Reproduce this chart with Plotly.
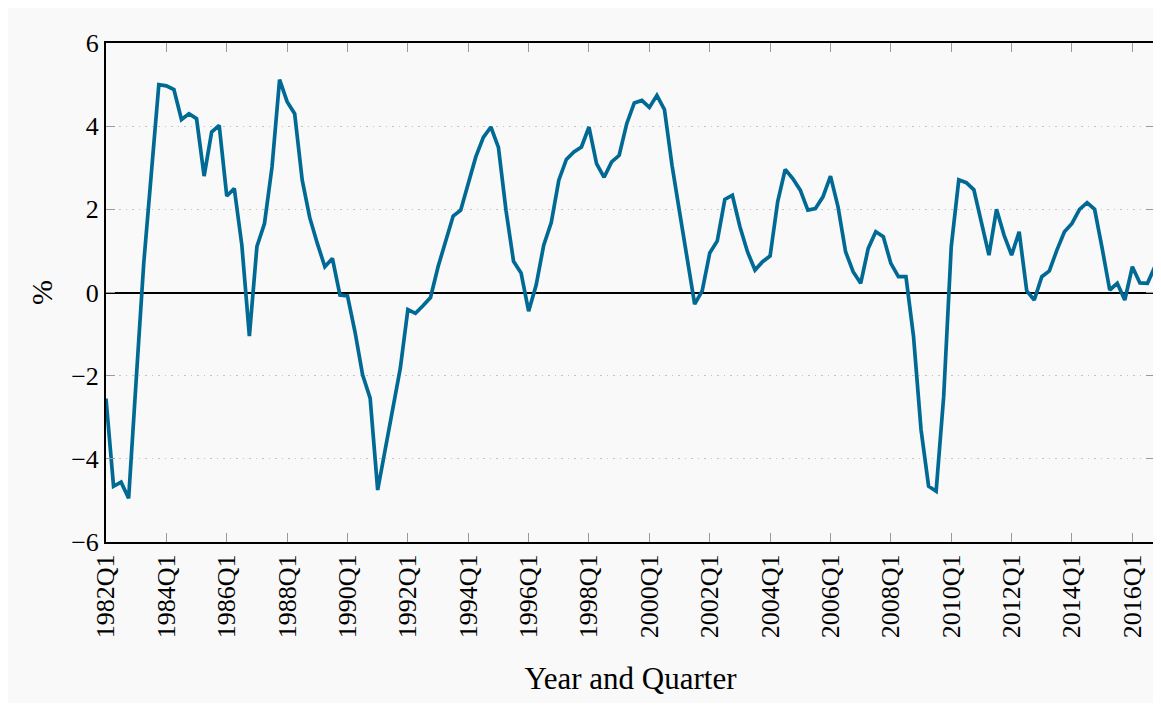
import plotly.graph_objects as go

years = list(range(1982, 2017))
quarters = [f"{y}Q{q}" for y in years for q in (1, 2, 3, 4)]

values = [
    -2.55, -4.66, -4.56, -4.95, -2.1, 0.7, 2.85, 5.0, 4.97, 4.88,
    4.16, 4.30, 4.18, 2.8, 3.86, 4.02, 2.32, 2.50, 1.14, -1.05,
    1.11, 1.66, 3.02, 5.12, 4.59, 4.30, 2.7, 1.8, 1.18, 0.62,
    0.82, -0.06, -0.08, -0.95, -1.98, -2.54, -4.75, -3.78, -2.82, -1.82,
    -0.41, -0.5, -0.32, -0.12, 0.62, 1.27, 1.84, 1.98, 2.66, 3.26,
    3.73, 3.98, 3.49, 1.98, 0.75, 0.47, -0.45, 0.18, 1.14, 1.68,
    2.7, 3.2, 3.38, 3.5, 3.98, 3.1, 2.77, 3.14, 3.3, 4.06,
    4.56, 4.62, 4.45, 4.74, 4.40, 3.06, 1.94, 0.86, -0.28, 0.04,
    0.95, 1.24, 2.24, 2.34, 1.58, 0.98, 0.54, 0.74, 0.88, 2.18,
    2.96, 2.74, 2.46, 1.98, 2.02, 2.3, 2.8, 2.06, 0.98, 0.5,
    0.22, 1.06, 1.46, 1.34, 0.7, 0.38, 0.38, -1.05, -3.3, -4.66,
    -4.78, -2.5, 1.1, 2.71, 2.64, 2.47, 1.66, 0.9, 2.0, 1.38,
    0.9, 1.46, 0.04, -0.18, 0.38, 0.52, 1.02, 1.46, 1.66, 2.0,
    2.16, 2.0, 1.06, 0.06, 0.22, -0.18, 0.62, 0.23, 0.22, 0.63,
]

tick_labels = ["1982Q1", "1984Q1", "1986Q1", "1988Q1", "1990Q1", "1992Q1",
               "1994Q1", "1996Q1", "1998Q1", "2000Q1", "2002Q1", "2004Q1",
               "2006Q1", "2008Q1", "2010Q1", "2012Q1", "2014Q1", "2016Q1"]
y_ticks = [-6, -4, -2, 0, 2, 4, 6]
y_tick_text = ["\u22126", "\u22124", "\u22122", "0", "2", "4", "6"]

FONT = "Liberation Serif, Times New Roman, Times, serif"
W, H = 1153, 695
L, R, T, B = 98, 4, 35, 161

fig = go.Figure()
fig.add_trace(go.Scatter(
    x=quarters, y=values, mode="lines",
    line=dict(color="#006a94", width=3.7),
    showlegend=False, hoverinfo="x+y",
))

fig.update_layout(
    width=W, height=H,
    margin=dict(l=L, r=R, t=T, b=B),
    paper_bgcolor="#f9f9f9",
    plot_bgcolor="#f9f9f9",
    font=dict(family=FONT, color="black", size=26),
    xaxis=dict(
        type="category",
        range=[0, len(quarters) - 1],
        tickmode="array", tickvals=tick_labels, ticktext=tick_labels,
        tickangle=-90,
        tickfont=dict(family=FONT, size=26, color="black"),
        ticks="inside", ticklen=9, tickcolor="#9a9a9a", tickwidth=1,
        showgrid=False,
        showline=True, linecolor="black", linewidth=2, mirror="ticks",
        title=dict(text="Year and Quarter", font=dict(family=FONT, size=31), standoff=30),
        zeroline=False,
    ),
    yaxis=dict(
        range=[-6, 6],
        tickmode="array", tickvals=y_ticks, ticktext=y_tick_text,
        tickfont=dict(family=FONT, size=26, color="black"),
        ticks="inside", ticklen=9, tickcolor="#9a9a9a", tickwidth=1,
        showgrid=True, gridcolor="#c4c4c4", griddash="1.5px,5px", gridwidth=1.3,
        zeroline=True, zerolinecolor="black", zerolinewidth=2,
        showline=True, linecolor="black", linewidth=2, mirror="ticks",
        title=dict(text="%", font=dict(family=FONT, size=30), standoff=10),
    ),
)

fig.write_html("out.html")
